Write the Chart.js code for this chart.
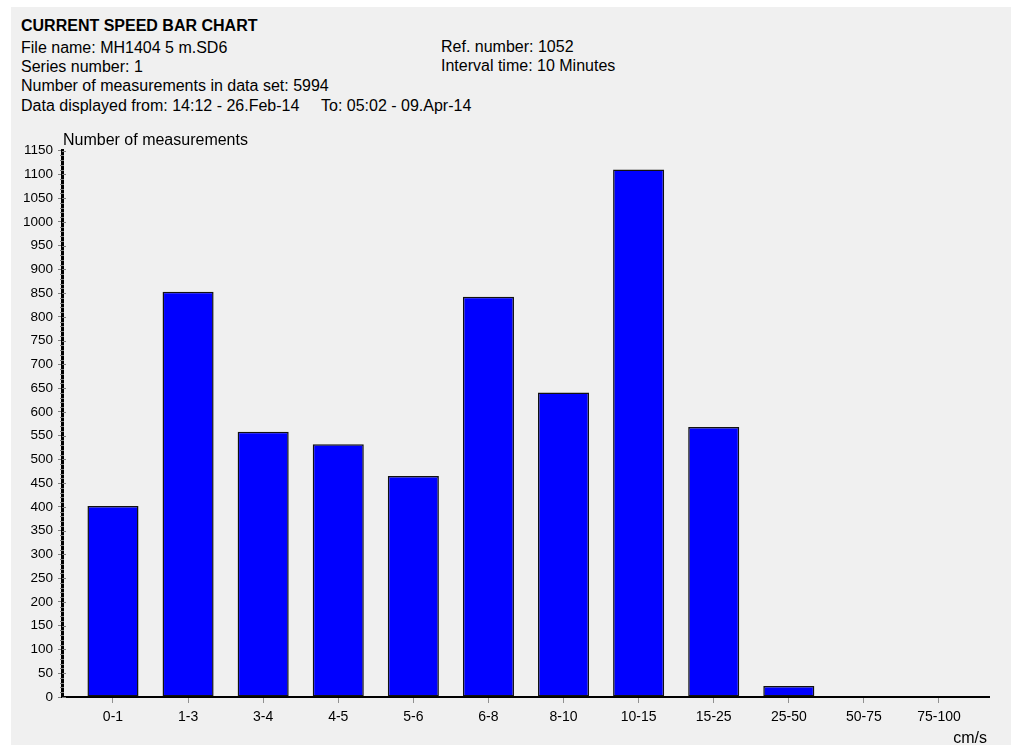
<!DOCTYPE html>
<html>
<head>
<meta charset="utf-8">
<script src="https://cdn.jsdelivr.net/npm/chart.js@4"></script>
<style>
  html, body { margin: 0; padding: 0; background: #fff; }
  body { width: 1011px; height: 746px; position: relative; overflow: hidden;
         font-family: 'Liberation Sans', Arial, sans-serif; }
  #panel { position: absolute; left: 11px; top: 7px; width: 1000px; height: 738px; background: #f0f0f0; }
  .hd { position: absolute; font-size: 16px; line-height: 16px; color: #000; white-space: pre; }
  #chartBox { position: absolute; left: 0; top: 0; width: 1011px; height: 746px; }
</style>
</head>
<body>
<div id="panel"></div>
<div class="hd" style="left:21px;top:18px;font-weight:bold">CURRENT SPEED BAR CHART</div>
<div class="hd" style="left:21px;top:40px">File name: MH1404 5 m.SD6</div>
<div class="hd" style="left:21px;top:59px">Series number: 1</div>
<div class="hd" style="left:21px;top:78px">Number of measurements in data set: 5994</div>
<div class="hd" style="left:21px;top:98px">Data displayed from: 14:12 - 26.Feb-14</div>
<div class="hd" style="left:321px;top:98px">To: 05:02 - 09.Apr-14</div>
<div class="hd" style="left:441px;top:39px">Ref. number: 1052</div>
<div class="hd" style="left:441px;top:58px">Interval time: 10 Minutes</div>
<div id="chartBox"><canvas id="speedChart" width="1011" height="746"></canvas></div>
<script>
// speed classes (cm/s) and number of measurements in each
var speedBins = ['0-1','1-3','3-4','4-5','5-6','6-8','8-10','10-15','15-25','25-50','50-75','75-100'];
var counts = [402, 853, 558, 532, 465, 842, 641, 1110, 568, 23, 0, 0];
var yTitle = 'Number of measurements';
var xUnit = 'cm/s';

var FONT = "'Liberation Sans', Arial, sans-serif";

// extra axis decorations: ticks crossing the y axis, minor ticks, axis texts
var axisExtras = {
	id: 'axisExtras',
	afterDraw: function(chart) {
		var c = chart.ctx, ys = chart.scales.y, area = chart.chartArea;
		c.save();
		c.strokeStyle = '#808080';
		c.lineWidth = 1;
		for (var v = 0; v <= 1150; v += 10) {
			var py = Math.round(ys.getPixelForValue(v)) + 0.5;
			c.beginPath();
			if (v % 50 == 0) {
				c.moveTo(area.left, py); c.lineTo(area.left + 4, py);
			} else {
				c.moveTo(area.left - 2, py); c.lineTo(area.left + 2, py);
			}
			c.stroke();
		}
		c.fillStyle = '#000';
		c.font = '16px ' + FONT;
		c.textBaseline = 'alphabetic';
		c.textAlign = 'left';
		c.fillText(yTitle, area.left + 1, area.top - 6);
		c.textAlign = 'right';
		c.fillText(xUnit, area.right - 2, 743);
		c.restore();
	}
};

var ctx = document.getElementById('speedChart');
var myChart = new Chart(ctx, {
	type: 'bar',
	data: {
		datasets: [{
			label: yTitle,
			data: speedBins.map(function(b, i) { return {x: i, y: counts[i]}; }),
			backgroundColor: '#0000ff',
			borderColor: '#111',
			borderWidth: 1.5,
			borderSkipped: false,
			barPercentage: 0.68,
			categoryPercentage: 1
		}]
	},
	options: {
		responsive: false,
		animation: false,
		layout: { padding: { left: 0, top: 150.5, right: 22, bottom: 0 } },
		plugins: { legend: { display: false }, tooltip: { enabled: false } },
		scales: {
			x: {
				type: 'linear',
				offset: false,
				min: -0.679,
				max: 11.666,
				afterFit: function(s) { s.height = 49; },
				border: { color: '#000', width: 2 },
				grid: { drawOnChartArea: false, offset: false, tickLength: 6, color: '#909090' },
				ticks: {
					stepSize: 1,
					includeBounds: false,
					autoSkip: false,
					maxRotation: 0,
					padding: 6,
					color: '#000',
					font: { family: FONT, size: 14 },
					callback: function(v) { return speedBins[v] !== undefined ? speedBins[v] : ''; }
				}
			},
			y: {
				min: 0,
				max: 1150,
				afterFit: function(s) { s.width = 62; },
				border: { color: '#000', width: 3 },
				grid: { drawOnChartArea: false, tickLength: 4, color: '#808080' },
				ticks: {
					stepSize: 50,
					padding: 5,
					color: '#000',
					font: { family: FONT, size: 13.5 },
					callback: function(v) { return String(v); }
				}
			}
		}
	},
	plugins: [axisExtras]
});
</script>
</body>
</html>
